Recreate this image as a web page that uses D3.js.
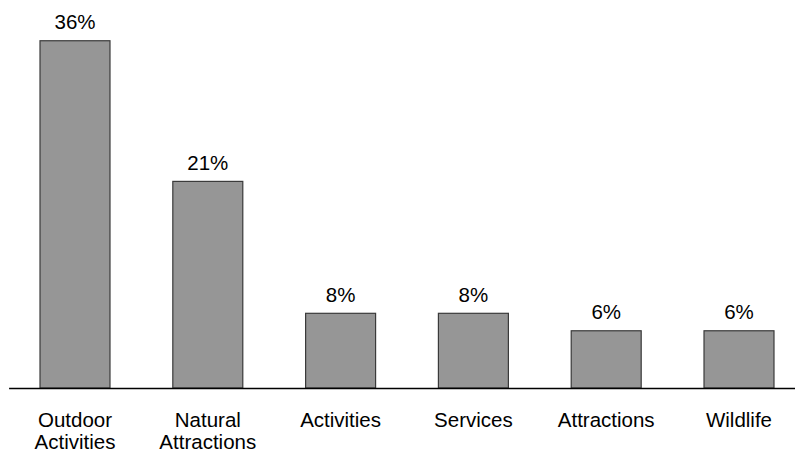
<!DOCTYPE html>
<html>
<head>
<meta charset="utf-8">
<script src="https://cdn.jsdelivr.net/npm/d3@7/dist/d3.min.js"></script>
<style>
  html, body { margin: 0; padding: 0; background: #fff; }
  svg { display: block; }
  text { font-family: Arial, "Liberation Sans", sans-serif; fill: #000; }
</style>
</head>
<body>
<svg id="chart" width="795" height="452"></svg>
<script>
const categories = [["Outdoor", "Activities"], ["Natural", "Attractions"], ["Activities"], ["Services"], ["Attractions"], ["Wildlife"]];
const values = [35.8, 21.3, 7.7, 7.7, 5.9, 5.9];
const valueLabels = ["36%", "21%", "8%", "8%", "6%", "6%"];

const svg = d3.select("#chart");
const keys = categories.map(c => c.join(" "));

const x = d3.scaleBand().domain(keys).range([8.6, 805.4]).paddingInner(0.473).paddingOuter(0.2365);
const y = d3.scaleLinear().domain([0, 40]).range([388, 0]);

const g = svg.append("g");

g.selectAll("rect.bar").data(values).join("rect")
  .attr("class", "bar")
  .attr("x", (d, i) => x(keys[i]))
  .attr("y", d => y(d))
  .attr("width", x.bandwidth())
  .attr("height", d => y(0) - y(d))
  .attr("fill", "#969696")
  .attr("stroke", "#3a3a3a")
  .attr("stroke-width", 1.2);

g.selectAll("text.val").data(values).join("text")
  .attr("class", "val")
  .attr("x", (d, i) => x(keys[i]) + x.bandwidth() / 2)
  .attr("y", d => y(d) - 11.7)
  .attr("text-anchor", "middle")
  .attr("font-size", 20.5)
  .text((d, i) => valueLabels[i]);

// x axis
const axis = d3.axisBottom(x).tickSize(0).tickFormat("");
const ax = svg.append("g").attr("transform", `translate(0,${y(0)})`).call(axis);
ax.select(".domain").attr("stroke", "#000").attr("stroke-width", 1.5);

const lab = svg.append("g");
categories.forEach((lines, i) => {
  const t = lab.append("text")
    .attr("x", x(keys[i]) + x.bandwidth() / 2)
    .attr("y", 427.3)
    .attr("text-anchor", "middle")
    .attr("font-size", 20.5);
  lines.forEach((ln, j) => {
    t.append("tspan")
      .attr("x", x(keys[i]) + x.bandwidth() / 2)
      .attr("dy", j === 0 ? 0 : 22)
      .text(ln);
  });
});
</script>
</body>
</html>
